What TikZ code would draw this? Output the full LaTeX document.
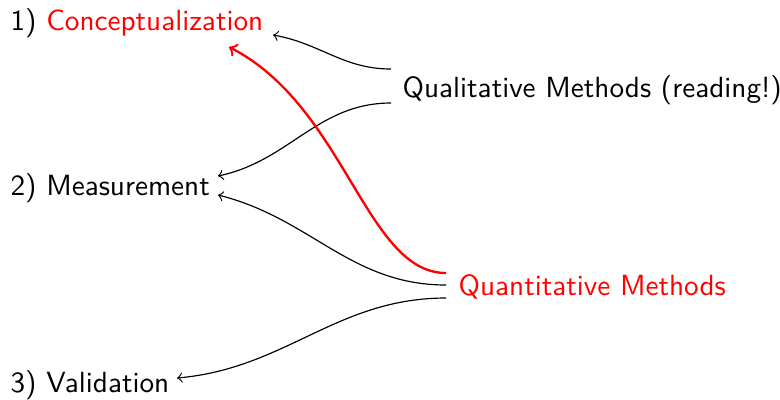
\documentclass[tikz,border=0pt]{standalone}
\usetikzlibrary{calc}
\begin{document}
\begin{tikzpicture}[x=0.3425pt,y=-0.3425pt,
  lbl/.style={anchor=base west,inner sep=0pt,font=\sffamily},
  conn/.style={->,line width=0.4pt},
  hot/.style={->,red,line width=0.8pt}]
\useasboundingbox (0,0) rectangle (780,399);
\node[lbl] (concept) at (10,30) {1) \textcolor{red}{Conceptualization}};
\node[lbl] (meas) at (10,195) {2) Measurement};
\node[lbl] (valid) at (10,392) {3) Validation};
\node[lbl] (qual) at (402,97) {Qualitative Methods (reading!)};
\node[lbl,text=red] (quant) at (458,295) {Quantitative Methods};
% endpoints
\coordinate (q1) at ($(qual.base west)+(-11,-28)$);
\coordinate (q2) at ($(qual.base west)+(-11,6)$);
\coordinate (n1) at ($(quant.base west)+(-12,-22)$);
\coordinate (n2) at ($(quant.base west)+(-12,-10)$);
\coordinate (n3) at ($(quant.base west)+(-12,3)$);
\coordinate (c1) at (273,35);
\coordinate (c2) at (229,47);
\coordinate (m1) at (218,176);
\coordinate (m2) at (218,195);
\coordinate (v1) at (177,378);
\draw[conn] (q1) to[out=180,in=-10] (c1);
\draw[conn] (q2) to[out=180,in=12] (m1);
\draw[hot] (n1) .. controls +(-80,0) and +(116,59) .. (c2);
\draw[conn] (n2) to[out=180,in=-14] (m2);
\draw[conn] (n3) to[out=180,in=5] (v1);
\end{tikzpicture}
\end{document}
